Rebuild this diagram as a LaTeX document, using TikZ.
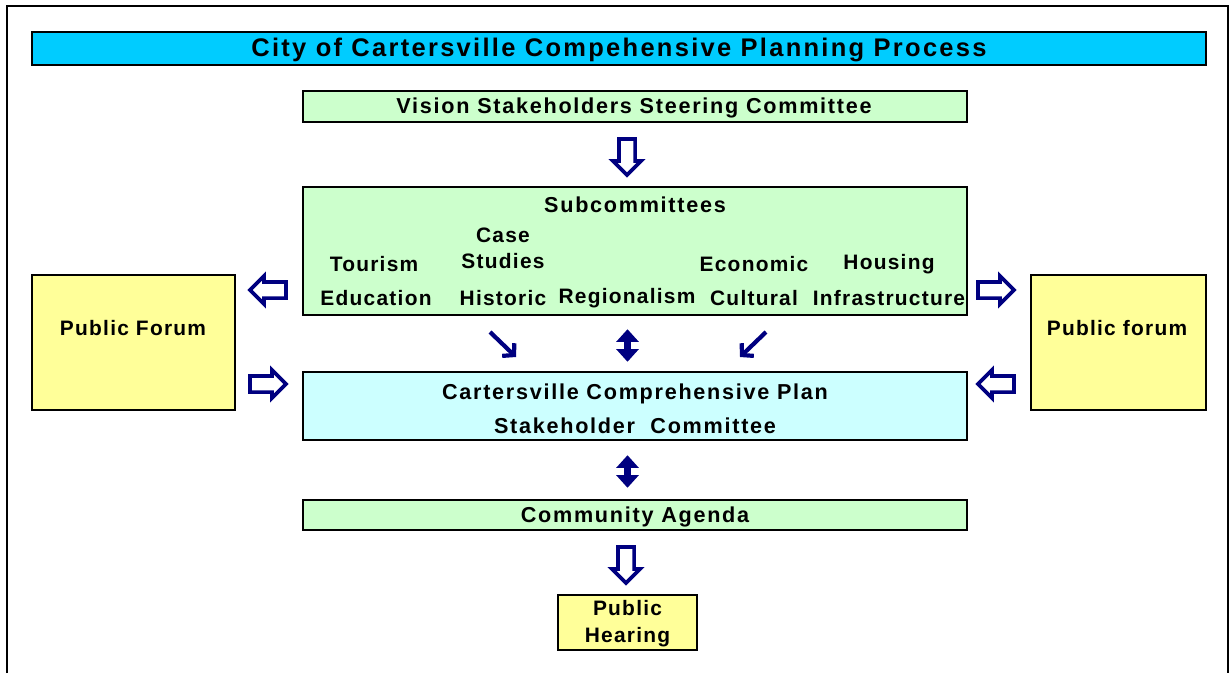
\documentclass[tikz,border=0pt]{standalone}
\usepackage{fontspec}
\setmainfont{Liberation Sans}[LetterSpace=6]
\newfontfamily\headfont{Liberation Sans}[LetterSpace=8]
\newfontfamily\titlefont{Liberation Sans}[LetterSpace=9]
\usetikzlibrary{shapes.arrows,arrows.meta}
\definecolor{navy}{RGB}{0,0,128}
\definecolor{titlec}{RGB}{0,204,255}
\definecolor{greenc}{RGB}{204,255,204}
\definecolor{cyanc}{RGB}{204,255,255}
\definecolor{yellowc}{RGB}{255,255,153}
\begin{document}
\begin{tikzpicture}[x=0.02cm,y=-0.02cm,
  every node/.style={font=\fontsize{11.9}{14}\selectfont\bfseries},
  head/.style={font=\fontsize{12.3}{14}\selectfont\headfont\bfseries},
  box/.style={draw,line width=1.4pt,inner sep=0pt},
  bigarr/.style={single arrow,draw=navy,fill=white,line width=2.1pt,inner sep=0.125cm,
    single arrow head extend=0.12cm,minimum height=0.72cm},
  dbl/.style={navy,line width=4.5pt,{Triangle[length=7.2pt,width=12.5pt]}-{Triangle[length=7.2pt,width=12.5pt]}},
  slant/.style={navy,line width=2.4pt,-{Straight Barb[length=4.5pt,width=10pt]}}]
\useasboundingbox (0,0) rectangle (1230,673);
\draw[line width=1.1pt] (7,673) -- (7,6) -- (1228,6) -- (1228,673);
\node[box,fill=titlec,minimum width=23.48cm,minimum height=0.66cm]	(title)	at (619,48.5)	{};
\node[font=\fontsize{14.5}{16}\selectfont\titlefont\bfseries]	(title_t)	at (619,50)	{City of Cartersville Compehensive Planning Process};
\node[box,fill=greenc,minimum width=13.28cm,minimum height=0.62cm]	(vision)	at (635,106.5)	{};
\node[head]	(vision_t)	at (634,108)	{Vision Stakeholders Steering Committee};
\node[box,fill=greenc,minimum width=13.28cm,minimum height=2.56cm]	(sub)	at (635,251)	{};
\node[box,fill=yellowc,minimum width=4.06cm,minimum height=2.7cm]	(pf_l)	at (133.5,342.5)	{};
\node[box,fill=yellowc,minimum width=3.5cm,minimum height=2.7cm]	(pf_r)	at (1118.5,342.5)	{};
\node[box,fill=cyanc,minimum width=13.28cm,minimum height=1.36cm]	(plan)	at (635,406)	{};
\node[head,align=center,font=\fontsize{12.3}{19.3}\selectfont\headfont\bfseries]	(plan_t)	at (635,409)	{Cartersville Comprehensive Plan\\Stakeholder\ \ Committee};
\node[box,fill=greenc,minimum width=13.28cm,minimum height=0.6cm]	(agenda)	at (635,515)	{};
\node[head]	(agenda_t)	at (635,517)	{Community Agenda};
\node[box,fill=yellowc,minimum width=2.78cm,minimum height=1.1cm]	(hear)	at (627.5,622.5)	{};
\node[align=center,font=\fontsize{11.9}{15.3}\selectfont\bfseries]	(hear_t)	at (627.5,624)	{Public\\Hearing};
\node	(pf_lt)	at (133,328)	{Public Forum};
\node	(pf_rt)	at (1117,328)	{Public forum};
\node[head]	(s_0)	at (635,205)	{Subcommittees};
\node	(s_1)	at (374,264)	{Tourism};
\node	(s_2)	at (503,235)	{Case};
\node	(s_3)	at (503,261)	{Studies};
\node	(s_4)	at (754,264)	{Economic};
\node	(s_5)	at (889,264)	{Housing};
\node	(s_6)	at (376,298)	{Education};
\node	(s_7)	at (503,298)	{Historic};
\node	(s_8)	at (627,298)	{Regionalism};
\node	(s_9)	at (754,298)	{Cultural};
\node	(s_10)	at (889,298)	{Infrastructure};
\node[bigarr,shape border rotate=270]	(a_0)	at (627,153)	{};
\node[bigarr,shape border rotate=180]	(a_1)	at (272,290)	{};
\node[bigarr]	(a_2)	at (992,290)	{};
\node[bigarr]	(a_3)	at (264,384)	{};
\node[bigarr,shape border rotate=180]	(a_4)	at (1000,384)	{};
\node[bigarr,shape border rotate=270]	(a_5)	at (626,561)	{};
\coordinate	(d_0)	at (490,332);
\coordinate	(d_1)	at (516,357);
\coordinate	(d_2)	at (766,332);
\coordinate	(d_3)	at (740,357);
\draw[dbl]	([yshift=-13*0.02cm]sub.south -| hear) -- ([yshift=9*0.02cm]plan.north -| hear);
\draw[dbl]	([yshift=-14*0.02cm]plan.south -| hear) -- ([yshift=11*0.02cm]agenda.north -| hear);
\draw[slant]	(d_0) -- (d_1);
\draw[slant]	(d_2) -- (d_3);
\end{tikzpicture}
\end{document}
